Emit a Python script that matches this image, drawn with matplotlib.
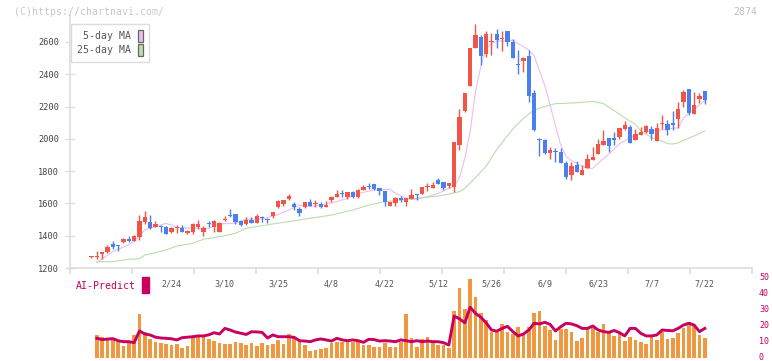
import numpy as np
import matplotlib
matplotlib.use("Agg")
import matplotlib.pyplot as plt
from matplotlib.patches import Patch, Rectangle
from matplotlib.transforms import ScaledTranslation

plt.rcParams['font.family'] = ['DejaVu Sans Mono']

# ---------- data ----------
opens = [1268, 1270, 1288, 1302, 1349, 1342, 1362, 1380, 1370, 1395,
         1488, 1485, 1455, 1462, 1454, 1425, 1445, 1450, 1414, 1426,
         1452, 1422, 1474, 1457, 1426, 1496, 1528, 1535, 1491, 1474,
         1497, 1478, 1513, 1498, 1524, 1575, 1599, 1626, 1596, 1563,
         1575, 1607, 1594, 1596, 1580, 1622, 1640, 1663, 1637, 1671,
         1637, 1684, 1708, 1720, 1696, 1677, 1587, 1602, 1631, 1606,
         1628, 1658, 1659, 1703, 1697, 1745, 1733, 1709, 1704, 1963,
         2173, 2330, 2561, 2631, 2524, 2600, 2649, 2621, 2668, 2598,
         2459, 2485, 2511, 2282, 1997, 1991, 1911, 1925, 1920, 1852,
         1778, 1838, 1778, 1818, 1872, 1909, 1963, 2005, 2005, 2010,
         2062, 2076, 1994, 2025, 2040, 2062, 1988, 2090, 2090, 2101,
         2124, 2226, 2309, 2155, 2246, 2297]
highs = [1272, 1305, 1301, 1340, 1367, 1342, 1384, 1398, 1402, 1528,
         1555, 1528, 1490, 1464, 1458, 1456, 1468, 1466, 1433, 1477,
         1498, 1460, 1491, 1497, 1487, 1524, 1566, 1535, 1497, 1514,
         1514, 1535, 1524, 1510, 1547, 1621, 1621, 1658, 1611, 1580,
         1611, 1627, 1621, 1611, 1617, 1646, 1683, 1683, 1671, 1675,
         1689, 1714, 1724, 1720, 1696, 1677, 1611, 1640, 1646, 1636,
         1689, 1658, 1702, 1724, 1733, 1758, 1733, 1724, 1980, 2183,
         2284, 2563, 2711, 2643, 2668, 2653, 2680, 2668, 2668, 2618,
         2550, 2509, 2550, 2302, 2003, 1997, 1951, 1941, 1941, 1865,
         1858, 1865, 1836, 1904, 1951, 1997, 2055, 2005, 2044, 2065,
         2110, 2086, 2062, 2076, 2084, 2080, 2101, 2148, 2117, 2173,
         2231, 2303, 2309, 2291, 2282, 2297]
lows = [1265, 1254, 1254, 1291, 1320, 1305, 1352, 1362, 1369, 1374,
        1471, 1442, 1452, 1425, 1413, 1415, 1415, 1421, 1410, 1411,
        1442, 1400, 1452, 1421, 1421, 1493, 1518, 1473, 1460, 1464,
        1477, 1477, 1487, 1481, 1508, 1574, 1586, 1621, 1559, 1524,
        1570, 1586, 1580, 1574, 1580, 1611, 1640, 1640, 1625, 1632,
        1636, 1683, 1689, 1683, 1652, 1586, 1586, 1586, 1611, 1586,
        1627, 1621, 1658, 1679, 1696, 1720, 1683, 1696, 1673, 1931,
        2168, 2329, 2560, 2457, 2509, 2519, 2560, 2544, 2577, 2503,
        2404, 2412, 2230, 2048, 1896, 1904, 1875, 1858, 1852, 1753,
        1747, 1796, 1778, 1817, 1871, 1908, 1962, 1920, 1962, 1999,
        2055, 1973, 1993, 2024, 2035, 1993, 1987, 2062, 2024, 2055,
        2066, 2200, 2148, 2154, 2225, 2214]
closes = [1270, 1275, 1297, 1330, 1331, 1338, 1380, 1368, 1396, 1490,
          1516, 1445, 1473, 1454, 1413, 1450, 1449, 1426, 1431, 1470,
          1473, 1450, 1471, 1491, 1479, 1505, 1519, 1484, 1465, 1497,
          1478, 1522, 1510, 1495, 1547, 1615, 1621, 1646, 1575, 1538,
          1607, 1587, 1597, 1580, 1590, 1640, 1658, 1660, 1670, 1641,
          1683, 1702, 1701, 1690, 1678, 1606, 1611, 1634, 1622, 1636,
          1652, 1652, 1702, 1708, 1714, 1721, 1697, 1724, 1980, 2135,
          2284, 2563, 2643, 2515, 2649, 2603, 2614, 2625, 2598, 2503,
          2455, 2498, 2267, 2056, 1992, 1914, 1931, 1917, 1852, 1766,
          1831, 1797, 1807, 1875, 1887, 1968, 1986, 1958, 1992, 2065,
          2086, 1977, 2031, 2045, 2080, 2031, 2068, 2097, 2055, 2083,
          2185, 2291, 2163, 2210, 2266, 2238]

ma5_day = [1, 4, 7, 8, 10, 14, 16, 19, 22, 24, 27, 29, 32, 35, 37, 39, 41, 43,
           46, 48, 50, 53, 56, 57, 59, 61, 63, 65, 67, 68, 69, 70, 71, 72, 73,
           74, 75, 76, 78, 79, 80, 81, 82, 83, 84, 85, 86, 87, 88, 89, 90, 92,
           93, 94, 95, 97, 99, 101, 103, 105, 107, 109, 110, 111, 113, 114, 115]
ma5_val = [1235, 1301, 1345, 1363, 1436, 1477, 1452, 1446, 1446, 1473, 1477,
           1502, 1505, 1530, 1559, 1590, 1580, 1590, 1611, 1632, 1662, 1683,
           1687, 1662, 1632, 1625, 1642, 1662, 1694, 1705, 1760, 1880, 2044,
           2290, 2450, 2560, 2590, 2606, 2606, 2612, 2590, 2571, 2550, 2515,
           2420, 2330, 2209, 2080, 1960, 1890, 1865, 1830, 1815, 1818, 1848,
           1905, 1970, 2008, 2035, 2050, 2055, 2066, 2068, 2130, 2185, 2210,
           2237]

ma25_day = [1, 4, 7, 9, 10, 12, 14, 16, 19, 21, 24, 27, 29, 32, 34, 37, 41, 45,
            49, 52, 55, 58, 61, 65, 67, 69, 70, 72, 74, 76, 79, 81, 83, 85, 87,
            89, 92, 94, 96, 98, 100, 102, 103, 105, 107, 108, 109, 110, 111,
            113, 115]
ma25_val = [1239, 1239, 1254, 1258, 1281, 1295, 1312, 1336, 1353, 1378, 1394,
            1415, 1446, 1462, 1473, 1487, 1508, 1528, 1559, 1590, 1611, 1621,
            1632, 1646, 1658, 1673, 1693, 1760, 1830, 1935, 2060, 2127, 2179,
            2200, 2218, 2220, 2226, 2232, 2218, 2175, 2130, 2090, 2050, 2008,
            1985, 1970, 1968, 1975, 1990, 2018, 2049]

# volume / AI-Predict start from the 2nd candle
volume = [14.4, 12.9, 11.3, 12.3, 9.8, 7.5, 10.8, 14.4, 27.5, 16.5,
          11.9, 10.2, 9.2, 8.8, 8.1, 8.8, 6.0, 7.5, 13.3, 12.9,
          12.9, 11.9, 10.6, 9.2, 8.8, 8.8, 10.2, 9.2, 8.1, 9.6,
          7.5, 9.2, 8.1, 8.8, 11.3, 8.8, 15.0, 12.9, 10.2, 8.1,
          4.6, 5.0, 5.4, 6.3, 9.6, 10.2, 10.2, 9.8, 10.2, 10.6,
          8.1, 8.1, 7.1, 7.1, 9.2, 7.1, 7.1, 10.2, 27.5, 12.3,
          7.1, 11.7, 12.9, 10.2, 8.1, 8.1, 6.5, 29.4, 43.5, 30.6,
          49.4, 37.9, 27.9, 23.8, 16.5, 16.5, 21.3, 16.5, 15.0, 19.2,
          15.4, 19.6, 28.3, 29.4, 20.0, 17.5, 11.3, 18.1, 18.1, 16.5,
          10.6, 12.7, 17.9, 18.5, 16.5, 21.3, 16.5, 13.8, 16.5, 10.6,
          13.3, 11.3, 10.2, 8.8, 13.3, 11.3, 16.5, 11.9, 12.7, 15.8,
          18.5, 22.7, 20.6, 14.4, 12.7]
ai_predict = [12.3, 11.5, 11.8, 12.1, 10.8, 10.2, 10.2, 9.6, 16.9, 15.0,
              14.4, 13.0, 12.5, 12.3, 12.0, 11.3, 12.7, 13.0, 13.3, 13.8,
              13.8, 14.5, 15.8, 15.0, 18.5, 17.5, 16.2, 15.5, 14.7, 16.4,
              16.3, 16.0, 12.5, 14.4, 13.3, 13.3, 13.3, 12.9, 10.8, 10.6,
              10.2, 11.3, 11.9, 11.3, 10.6, 12.3, 11.3, 10.8, 11.3, 10.8,
              9.8, 11.7, 11.5, 10.6, 10.8, 10.6, 10.2, 11.3, 10.8, 10.2,
              10.8, 10.2, 10.6, 10.2, 10.2, 9.6, 8.1, 26.2, 24.5, 22.0,
              31.7, 27.9, 25.5, 22.0, 17.5, 16.8, 18.5, 19.8, 16.5, 13.8,
              15.0, 17.5, 21.7, 21.3, 22.3, 21.0, 16.9, 19.6, 21.7, 21.3,
              20.2, 18.5, 18.5, 20.0, 17.5, 16.5, 16.0, 17.2, 15.8, 13.8,
              18.5, 18.5, 15.4, 13.8, 13.8, 14.4, 17.5, 17.2, 17.0, 18.5,
              20.6, 21.7, 20.6, 16.5, 18.5]

date_labels = ["2/24", "3/10", "3/25", "4/8", "4/22", "5/12",
               "5/26", "6/9", "6/23", "7/7", "7/22"]
date_label_day = [15, 25, 35, 45, 55, 65, 75, 85, 95, 105, 115]

# ---------- style ----------
RED = "#f05545"
BLUE = "#4a7ff0"
ORANGE = "#f0983f"
CRIMSON = "#c8005f"
PINK = "#ebbdf0"
GREEN = "#bcdcae"
AXCOL = "#dddddd"
TXT = "#555555"

W, H = 772, 361
fig = plt.figure(figsize=(W / 100, H / 100), dpi=100)
ax = fig.add_axes([70 / W, 1 - 268 / H, 682 / W, 253 / H])
axv = fig.add_axes([70 / W, 1 - 358 / H, 682 / W, 80 / H])
axv.patch.set_visible(False)

days = np.arange(len(opens))
o = np.array(opens, float)
c = np.array(closes, float)
up = c >= o
colors = np.where(up, RED, BLUE)

# ローソク足
ax.vlines(days, lows, highs, colors=colors, linewidth=1.0, zorder=2)
body_lo = np.minimum(o, c)
body_h = np.maximum(np.abs(c - o), 6)
ax.bar(days, body_h, bottom=body_lo, width=0.8, color=colors, zorder=3)

# 移動平均
ax.plot(ma5_day, ma5_val, color=PINK, lw=0.8, zorder=1)
ax.plot(ma25_day, ma25_val, color=GREEN, lw=0.8, zorder=1)

xmin, xmax = -4.03, 123.85
ax.set_xlim(xmin, xmax)
ax.set_ylim(1200, 2767)
ax.set_yticks(range(1200, 2601, 200))
for s in ["top", "right"]:
    ax.spines[s].set_visible(False)
for s in ["left", "bottom"]:
    ax.spines[s].set_color(AXCOL)
    ax.spines[s].set_linewidth(1.2)
ax.tick_params(axis="y", direction="inout", length=6.5, width=1, color=AXCOL,
               labelsize=6.2, labelcolor="#444444", pad=4.5)
ax.set_xticks(np.linspace(xmin, xmax, 12))
ax.set_xticklabels([])
ax.tick_params(axis="x", which="major", direction="out", length=4.5, width=1.2,
               color=AXCOL)
ax.set_xticks(date_label_day, minor=True)
ax.set_xticklabels(date_labels, minor=True)
ax.tick_params(axis="x", which="minor", length=0, pad=8.5, labelsize=6,
               labelcolor=TXT)

leg = ax.legend(handles=[Patch(fc=PINK, ec="#666666", lw=0.9),
                         Patch(fc=GREEN, ec="#666666", lw=0.9)],
                labels=["5-day MA", "25-day MA"], loc="upper left",
                bbox_to_anchor=(0.001, 0.964), borderaxespad=0,
                markerfirst=False, handlelength=0.6, handleheight=1.5,
                handletextpad=0.7, labelspacing=0.2, borderpad=0.6,
                fancybox=False, framealpha=1, edgecolor=AXCOL,
                prop={"size": 7.1})
leg.get_frame().set_linewidth(1.0)
for t in leg.get_texts():
    t.set_color(TXT)

# 出来高 + AI-Predict
vdays = days[1:]
axv.bar(vdays, volume, width=0.72, color=ORANGE, zorder=1)
axv.plot(vdays, ai_predict, color=CRIMSON, lw=2.1, zorder=2)
axv.set_xlim(xmin, xmax)
axv.set_ylim(0, 50)
axv.set_xticks([])
axv.yaxis.tick_right()
axv.set_yticks(range(0, 51, 10))
axv.tick_params(axis="y", length=0, pad=5, labelsize=6, labelcolor=CRIMSON)
for s in axv.spines.values():
    s.set_visible(False)
# 下端で切れないよう少し上へ
shift = ScaledTranslation(0, 2 / 100, fig.dpi_scale_trans)
for lab in axv.get_yticklabels():
    lab.set_transform(lab.get_transform() + shift)

fig.text(76 / W, 1 - 286 / H, "AI-Predict", color=CRIMSON, fontsize=7.1,
         va="center", ha="left")
fig.add_artist(Rectangle((142 / W, 1 - 293 / H), 7 / W, 16 / H,
                         transform=fig.transFigure, color=CRIMSON))

fig.text(14 / W, 1 - 12 / H, "(C)https://chartnavi.com/", color="#c8c8c8",
         fontsize=7.1, va="center", ha="left")
fig.text(757 / W, 1 - 12 / H, "2874", color="#c0c0c0", fontsize=7.1,
         va="center", ha="right")

fig.savefig("out.png", dpi=100, facecolor="white")
